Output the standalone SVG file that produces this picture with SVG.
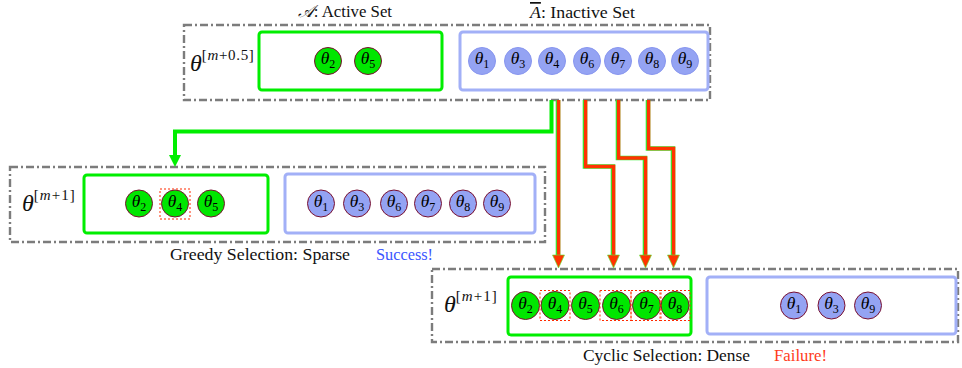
<svg xmlns="http://www.w3.org/2000/svg" width="962" height="368" viewBox="0 0 962 368">
<style>
.outer{fill:none;stroke:#7c7c7c;stroke-width:2.4;stroke-dasharray:8 3 2 3}
.gbox{fill:#fff;stroke:#00ee00;stroke-width:3}
.bbox{fill:#fff;stroke:#a2b0f7;stroke-width:3}
.gc{fill:#00e600;stroke:#7a1030;stroke-width:1}
.bc{fill:#94a3f3;stroke:#7a1030;stroke-width:1}
.bc0{fill:#94a3f3;stroke:#8896ef;stroke-width:1}
.th{font-style:italic;font-size:17.5px;fill:#000;text-anchor:middle}
.sub{font-style:normal;font-size:12px}
.lbl{font-size:17px;fill:#111}
.big{font-style:italic;font-size:24px;fill:#111}
.sup{font-style:normal;font-size:15px}
.sel{fill:none;stroke:#ff2a00;stroke-width:1;stroke-dasharray:2 2}
.gline{fill:none;stroke:#00ee00;stroke-width:4}
.rline{fill:none;stroke:#ff3300;stroke-width:3.4}
.rhalo{fill:none;stroke:#33ee33;stroke-width:4.6}
</style>

<g font-family="Liberation Serif, Times New Roman, serif">
<g id="top">
<rect class="outer" x="184" y="25" width="526" height="75"/>
<text class="lbl" x="298" y="17" textLength="94" lengthAdjust="spacingAndGlyphs"><tspan font-style="italic">𝒜</tspan>: Active Set</text>
<text class="lbl" x="530" y="18" textLength="105" lengthAdjust="spacingAndGlyphs"><tspan font-style="italic" text-decoration="overline">A</tspan>: Inactive Set</text>
<text class="big" x="190" y="71">θ<tspan class="sup" dy="-11" textLength="52">[<tspan font-style="italic">m</tspan>+0.5]</tspan></text>
<g id="topActive">
<rect class="gbox" x="259" y="32" width="183" height="58" rx="3"/>
<circle class="gc" cx="328" cy="61" r="13.5"/><text class="th" x="328" y="64">θ<tspan class="sub" dy="4">2</tspan></text>
<circle class="gc" cx="368" cy="61" r="13.5"/><text class="th" x="368" y="64">θ<tspan class="sub" dy="4">5</tspan></text>
</g>
<g id="topInactive">
<rect class="bbox" x="460" y="32" width="248" height="58" rx="3"/>
<circle class="bc0" cx="482" cy="61" r="13.5"/><text class="th" x="482" y="64">θ<tspan class="sub" dy="4">1</tspan></text>
<circle class="bc0" cx="518" cy="61" r="13.5"/><text class="th" x="518" y="64">θ<tspan class="sub" dy="4">3</tspan></text>
<circle class="bc0" cx="552" cy="61" r="13.5"/><text class="th" x="552" y="64">θ<tspan class="sub" dy="4">4</tspan></text>
<circle class="bc0" cx="587" cy="61" r="13.5"/><text class="th" x="587" y="64">θ<tspan class="sub" dy="4">6</tspan></text>
<circle class="bc0" cx="618" cy="61" r="13.5"/><text class="th" x="618" y="64">θ<tspan class="sub" dy="4">7</tspan></text>
<circle class="bc0" cx="652" cy="61" r="13.5"/><text class="th" x="652" y="64">θ<tspan class="sub" dy="4">8</tspan></text>
<circle class="bc0" cx="685" cy="61" r="13.5"/><text class="th" x="685" y="64">θ<tspan class="sub" dy="4">9</tspan></text>
</g>
</g>

<g id="greedy">
<rect class="outer" x="10" y="167" width="535" height="75"/>
<text class="big" x="22" y="211">θ<tspan class="sup" dy="-11" textLength="41">[<tspan font-style="italic">m</tspan>+1]</tspan></text>
<g id="greedyActive">
<rect class="gbox" x="84" y="175" width="184" height="58" rx="3"/>
<circle class="gc" cx="139" cy="203.5" r="13.5"/><text class="th" x="139" y="206.5">θ<tspan class="sub" dy="4">2</tspan></text>
<circle class="gc" cx="175" cy="203.5" r="13.5"/><text class="th" x="175" y="206.5">θ<tspan class="sub" dy="4">4</tspan></text>
<rect class="sel" x="160" y="189" width="30" height="30"/>
<circle class="gc" cx="211" cy="203.5" r="13.5"/><text class="th" x="211" y="206.5">θ<tspan class="sub" dy="4">5</tspan></text>
</g>
<g id="greedyInactive">
<rect class="bbox" x="285" y="174" width="250" height="59" rx="3"/>
<circle class="bc" cx="321" cy="203.5" r="13.5"/><text class="th" x="321" y="206.5">θ<tspan class="sub" dy="4">1</tspan></text>
<circle class="bc" cx="357" cy="203.5" r="13.5"/><text class="th" x="357" y="206.5">θ<tspan class="sub" dy="4">3</tspan></text>
<circle class="bc" cx="394" cy="203.5" r="13.5"/><text class="th" x="394" y="206.5">θ<tspan class="sub" dy="4">6</tspan></text>
<circle class="bc" cx="428" cy="203.5" r="13.5"/><text class="th" x="428" y="206.5">θ<tspan class="sub" dy="4">7</tspan></text>
<circle class="bc" cx="463" cy="203.5" r="13.5"/><text class="th" x="463" y="206.5">θ<tspan class="sub" dy="4">8</tspan></text>
<circle class="bc" cx="497" cy="203.5" r="13.5"/><text class="th" x="497" y="206.5">θ<tspan class="sub" dy="4">9</tspan></text>
</g>
<text class="lbl" x="170" y="260" textLength="180" lengthAdjust="spacingAndGlyphs">Greedy Selection: Sparse</text>
<text class="lbl" x="376" y="260" textLength="57" lengthAdjust="spacingAndGlyphs" style="fill:#3b55ff">Success!</text>
</g>

<g id="cyclic">
<rect class="outer" x="432" y="269" width="526" height="73"/>
<text class="big" x="444" y="312">θ<tspan class="sup" dy="-11" textLength="41">[<tspan font-style="italic">m</tspan>+1]</tspan></text>
<g id="cyclicActive">
<rect class="gbox" x="508" y="277" width="183" height="58" rx="3"/>
<circle class="gc" cx="525.5" cy="305.5" r="14"/><text class="th" x="525.5" y="308.5">θ<tspan class="sub" dy="4">2</tspan></text>
<circle class="gc" cx="555" cy="305.5" r="14"/><text class="th" x="555" y="308.5">θ<tspan class="sub" dy="4">4</tspan></text>
<circle class="gc" cx="585.5" cy="305.5" r="14"/><text class="th" x="585.5" y="308.5">θ<tspan class="sub" dy="4">5</tspan></text>
<circle class="gc" cx="616.5" cy="305.5" r="14"/><text class="th" x="616.5" y="308.5">θ<tspan class="sub" dy="4">6</tspan></text>
<circle class="gc" cx="646.5" cy="305.5" r="14"/><text class="th" x="646.5" y="308.5">θ<tspan class="sub" dy="4">7</tspan></text>
<circle class="gc" cx="675" cy="305.5" r="14"/><text class="th" x="675" y="308.5">θ<tspan class="sub" dy="4">8</tspan></text>
<rect class="sel" x="540" y="290.5" width="30" height="30"/>
<rect class="sel" x="600" y="290.5" width="31" height="30"/>
<rect class="sel" x="631" y="290.5" width="30" height="30"/>
<rect class="sel" x="660" y="290.5" width="30" height="30"/>
</g>
<g id="cyclicInactive">
<rect class="bbox" x="707" y="277" width="249" height="57" rx="3"/>
<circle class="bc" cx="794" cy="305.5" r="13.5"/><text class="th" x="794" y="308.5">θ<tspan class="sub" dy="4">1</tspan></text>
<circle class="bc" cx="831.5" cy="305.5" r="13.5"/><text class="th" x="831.5" y="308.5">θ<tspan class="sub" dy="4">3</tspan></text>
<circle class="bc" cx="868" cy="305.5" r="13.5"/><text class="th" x="868" y="308.5">θ<tspan class="sub" dy="4">9</tspan></text>
</g>
<text class="lbl" x="583" y="361" textLength="167" lengthAdjust="spacingAndGlyphs">Cyclic Selection: Dense</text>
<text class="lbl" x="774" y="361" textLength="53" lengthAdjust="spacingAndGlyphs" style="fill:#ff3a1a">Failure!</text>
</g>
</g>

<g id="connectors">
<polyline class="gline" points="551.5,100 551.5,131.5 175,131.5 175,158"/>
<path d="M169,155 L181,155 L175,167 Z" fill="#00ee00"/>
<polyline class="rhalo" points="558,100 558,258"/>
<polyline class="rhalo" points="585,100 585,166.5 613,166.5 613,258"/>
<polyline class="rhalo" points="618,100 618,158 645,158 645,258"/>
<polyline class="rhalo" points="648,100 648,148.5 673,148.5 673,258"/>
<polyline class="rline" points="558.6,100 558.6,258"/>
<polyline class="rline" points="585.6,100 585.6,166.5 613.6,166.5 613.6,258"/>
<polyline class="rline" points="618.6,100 618.6,158 645.6,158 645.6,258"/>
<polyline class="rline" points="648.6,100 648.6,148.5 673.6,148.5 673.6,258"/>
<g fill="#ff3300" stroke="#55ee33" stroke-width="0.6">
<path d="M552.5,255 L564.5,255 L558.5,268 Z"/>
<path d="M607.5,255 L619.5,255 L613.5,268 Z"/>
<path d="M639.5,255 L651.5,255 L645.5,268 Z"/>
<path d="M667.5,255 L679.5,255 L673.5,268 Z"/>
</g>
</g>
</svg>
